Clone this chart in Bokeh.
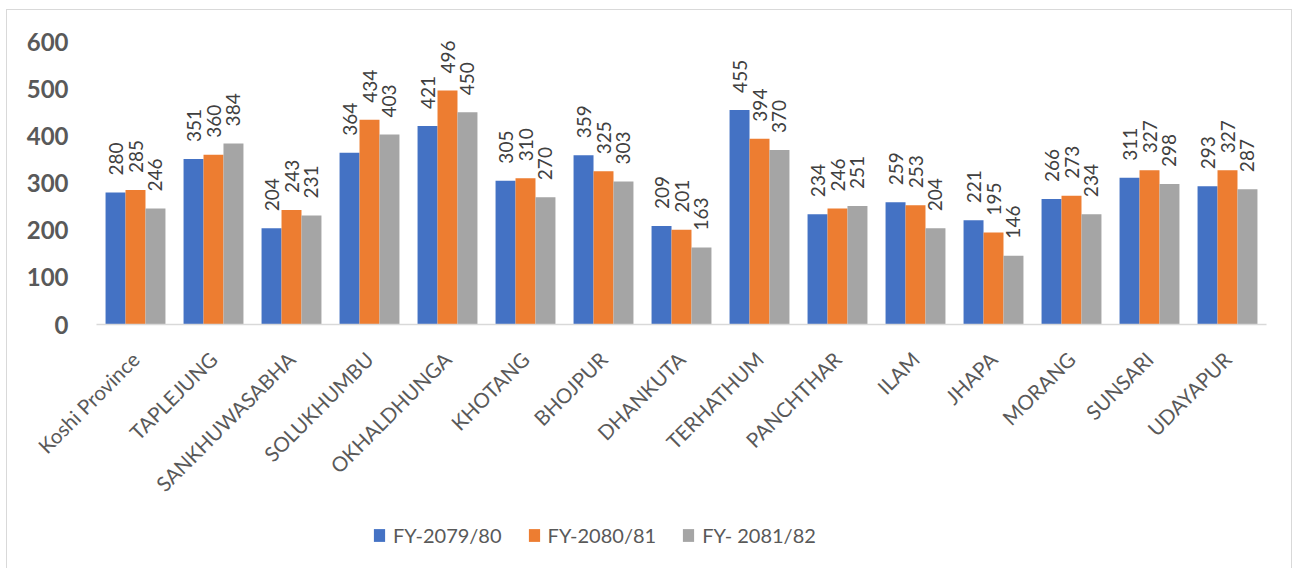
import math
from bokeh.plotting import figure
from bokeh.models import ColumnDataSource, Range1d, Legend, LegendItem
from bokeh.transform import dodge
from bokeh.core.properties import value
from bokeh.embed import file_html
from bokeh.resources import INLINE

districts = ["Koshi Province", "TAPLEJUNG", "SANKHUWASABHA", "SOLUKHUMBU", "OKHALDHUNGA",
             "KHOTANG", "BHOJPUR", "DHANKUTA", "TERHATHUM", "PANCHTHAR", "ILAM", "JHAPA",
             "MORANG", "SUNSARI", "UDAYAPUR"]
fy_2079_80 = [280, 351, 204, 364, 421, 305, 359, 209, 455, 234, 259, 221, 266, 311, 293]
fy_2080_81 = [285, 360, 243, 434, 496, 310, 325, 201, 394, 246, 253, 195, 273, 327, 327]
fy_2081_82 = [246, 384, 231, 403, 450, 270, 303, 163, 370, 251, 204, 146, 234, 298, 287]
series_names = ["FY-2079/80", "FY-2080/81", "FY- 2081/82"]
y_ticks = [0, 100, 200, 300, 400, 500, 600]

colors = ["#4472C4", "#ED7D31", "#A5A5A5"]
FONT = "Lato"

n = len(districts)
xpos = [i + 0.5 for i in range(n)]  # category centres on a numeric scale
source = ColumnDataSource(data=dict(
    x=xpos, d=districts,
    s0=fy_2079_80, s1=fy_2080_81, s2=fy_2081_82,
    t0=[str(v) for v in fy_2079_80],
    t1=[str(v) for v in fy_2080_81],
    t2=[str(v) for v in fy_2081_82],
    zero=[0] * n,
))
tick_source = ColumnDataSource(data=dict(
    y=y_ticks, t=[str(v) for v in y_ticks], x=[0] * len(y_ticks)))

# layout: one category = 78 px; y: 600 units = 283 px; y=0 sits 245 px above frame bottom
W, H = 1286, 559
cat_px = 78
left_px, right_px = 89, W - 89 - cat_px * n
px_per_unit = 283 / 600
top_px = 12
y_bottom = -245 / px_per_unit
y_top = (H - top_px - 245) / px_per_unit

p = figure(width=W, height=H,
           x_range=Range1d(-left_px / cat_px, n + right_px / cat_px),
           y_range=Range1d(y_bottom, y_top), output_backend="svg", toolbar_location=None,
           x_axis_location=None, y_axis_location=None,
           min_border_left=0, min_border_right=0, min_border_top=top_px, min_border_bottom=0)
p.outline_line_color = None
p.grid.visible = False
p.styles = {"border-left": "1px solid #d9d9d9", "border-top": "1px solid #d9d9d9",
            "border-right": "1px solid #d9d9d9", "margin-left": "6px", "margin-top": "9px"}

bw = 0.256
offsets = [-bw, 0.0, bw]
items = []
for i in range(3):
    r = p.vbar(x=dodge("x", offsets[i]), top=f"s{i}", width=bw,
               source=source, fill_color=colors[i], line_color=None)
    items.append(LegendItem(label=series_names[i], renderers=[r]))
    p.text(x=dodge("x", offsets[i]), y=f"s{i}", text=f"t{i}",
           source=source, angle=math.pi / 2, text_align="left", text_baseline="middle",
           y_offset=-17, text_font=value(FONT), text_font_size="19px", text_color="#404040")

# category axis line and labels
p.segment(x0=0, x1=n, y0=0, y1=0, line_color="#d9d9d9", line_width=1.5)
p.text(x="x", y="zero", text="d", source=source, angle=math.pi / 4,
       text_align="right", text_baseline="middle", y_offset=31,
       text_font=value(FONT), text_font_size="20.5px", text_color="#595959")

# value axis labels
p.text(x="x", y="y", text="t", source=tick_source, x_offset=-28,
       text_align="right", text_baseline="middle", text_font=value(FONT),
       text_font_size="24px", text_font_style="bold", text_color="#595959")

legend = Legend(items=items, orientation="horizontal", location=(365, 22),
                padding=0, margin=0, spacing=25, glyph_width=14, glyph_height=16,
                label_height=16, label_standoff=7, border_line_color=None,
                background_fill_alpha=0, label_text_font=FONT,
                label_text_font_size="20px", label_text_color="#595959")
p.add_layout(legend, "center")

open("out.html", "w").write(file_html(p, INLINE))
